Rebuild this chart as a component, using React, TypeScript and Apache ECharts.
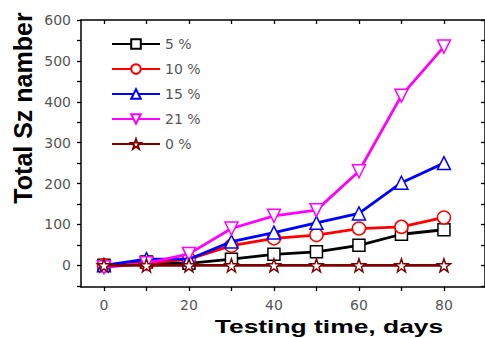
import React, { useEffect, useRef } from "react";
import * as echarts from "echarts";

const days = [0, 10, 20, 30, 40, 50, 60, 70, 80];
const s5 = [0, 8, 5, 15, 27, 33, 49, 76, 87];
const s10 = [0, 5, 15, 48, 66, 74, 90, 94, 117];
const s15 = [0, 15, 15, 58, 80, 104, 127, 202, 250];
const s21 = [-5, 5, 28, 90, 121, 135, 230, 415, 535];
const s0 = [0, 0, 0, 0, 0, 0, 0, 0, 0];
const seriesNames = ["5 %", "10 %", "15 %", "21 %", "0 %"];
const colors = ["#000000", "#ff0000", "#0000ff", "#ff00ff", "#800000"];
const xLabels = [0, 20, 40, 60, 80];
const xTicks = [0, 10, 20, 30, 40, 50, 60, 70, 80];
const yLabels = [0, 100, 200, 300, 400, 500, 600];
const yTicks = [-50, 0, 50, 100, 150, 200, 250, 300, 350, 400, 450, 500, 550, 600];

const STAR =
  "path://M0,-10 L2.35,-3.24 L9.51,-3.09 L3.80,1.24 L5.88,8.09 L0,4 L-5.88,8.09 L-3.8,1.24 L-9.51,-3.09 L-2.35,-3.24Z";

export default function App() {
  const ref = useRef<HTMLDivElement>(null);
  useEffect(() => {
    if (!ref.current) return;
    const chart = echarts.init(ref.current, undefined, { renderer: "svg" });
    const labelStyle = { color: "#555", fontSize: 14, fontFamily: "DejaVu Sans, sans-serif" };
    const X_MIN = -5.4, X_MAX = 89.66, Y_MIN = -53, Y_MAX = 600;
    const mkX = (pos: string, inside: boolean, showLine: boolean, labels: boolean) => ({
      type: "value", min: X_MIN, max: X_MAX, position: pos,
      axisLine: { show: showLine, onZero: false, lineStyle: { color: "#000", width: 1.5 } },
      axisTick: { show: true, customValues: xTicks, length: 4, inside, lineStyle: { color: "#000", width: 1.3 } },
      axisLabel: labels ? { show: true, customValues: xLabels, margin: 11, ...labelStyle } : { show: false },
      splitLine: { show: false },
    });
    const mkY = (pos: string, inside: boolean, showLine: boolean, labels: boolean) => ({
      type: "value", min: Y_MIN, max: Y_MAX, position: pos,
      axisLine: { show: showLine, onZero: false, lineStyle: { color: "#000", width: 1.5 } },
      axisTick: { show: true, customValues: yTicks, length: 4, inside, lineStyle: { color: "#000", width: 1.3 } },
      axisLabel: labels ? { show: true, customValues: yLabels, margin: 10, ...labelStyle } : { show: false },
      splitLine: { show: false },
    });
    const all = [s5, s10, s15, s21, s0];
    const symbols = ["rect", "circle", "triangle", "triangle", STAR];
    const rotates = [0, 0, 0, 180, 0];
    const sizes = [12, 13, 13, 13, 13];
    chart.setOption({
      animation: false,
      grid: { left: 81, right: 0, top: 20, bottom: 51 },
      xAxis: [mkX("bottom", false, true, true), mkX("top", true, true, false)],
      yAxis: [mkY("left", false, true, true), mkY("right", true, true, false)],
      legend: {
        left: 106, top: 32, orient: "vertical", itemWidth: 48, itemHeight: 12, itemGap: 11,
        textStyle: { ...labelStyle },
        data: seriesNames,
      },
      series: all.map((d, i) => ({
        name: seriesNames[i],
        type: "line",
        xAxisIndex: 0,
        yAxisIndex: 0,
        data: days.map((x, j) => [x, d[j]]),
        symbol: symbols[i],
        symbolRotate: rotates[i],
        symbolSize: sizes[i],
        showAllSymbol: true,
        color: colors[i],
        lineStyle: { color: colors[i], width: 2.8 },
        itemStyle: { color: "#fff", borderColor: colors[i], borderWidth: 1.5 },
        z: 2 + i,
      })),
      graphic: [
        {
          type: "text", x: 23, y: 108, rotation: Math.PI / 2,
          style: { text: "Total Sz namber", font: "bold 25px Liberation Sans, Arial, sans-serif", fill: "#000", align: "center", verticalAlign: "middle" },
        },
        {
          type: "text", x: 329, y: 326, scaleX: 1.39,
          style: { text: "Testing time, days", font: "bold 19px Liberation Sans, Arial, sans-serif", fill: "#000", align: "center", verticalAlign: "middle" },
        },
      ],
    });
    return () => chart.dispose();
  }, []);
  return <div ref={ref} style={{ width: 485, height: 338, position: "absolute", left: 0, top: 0 }} />;
}
